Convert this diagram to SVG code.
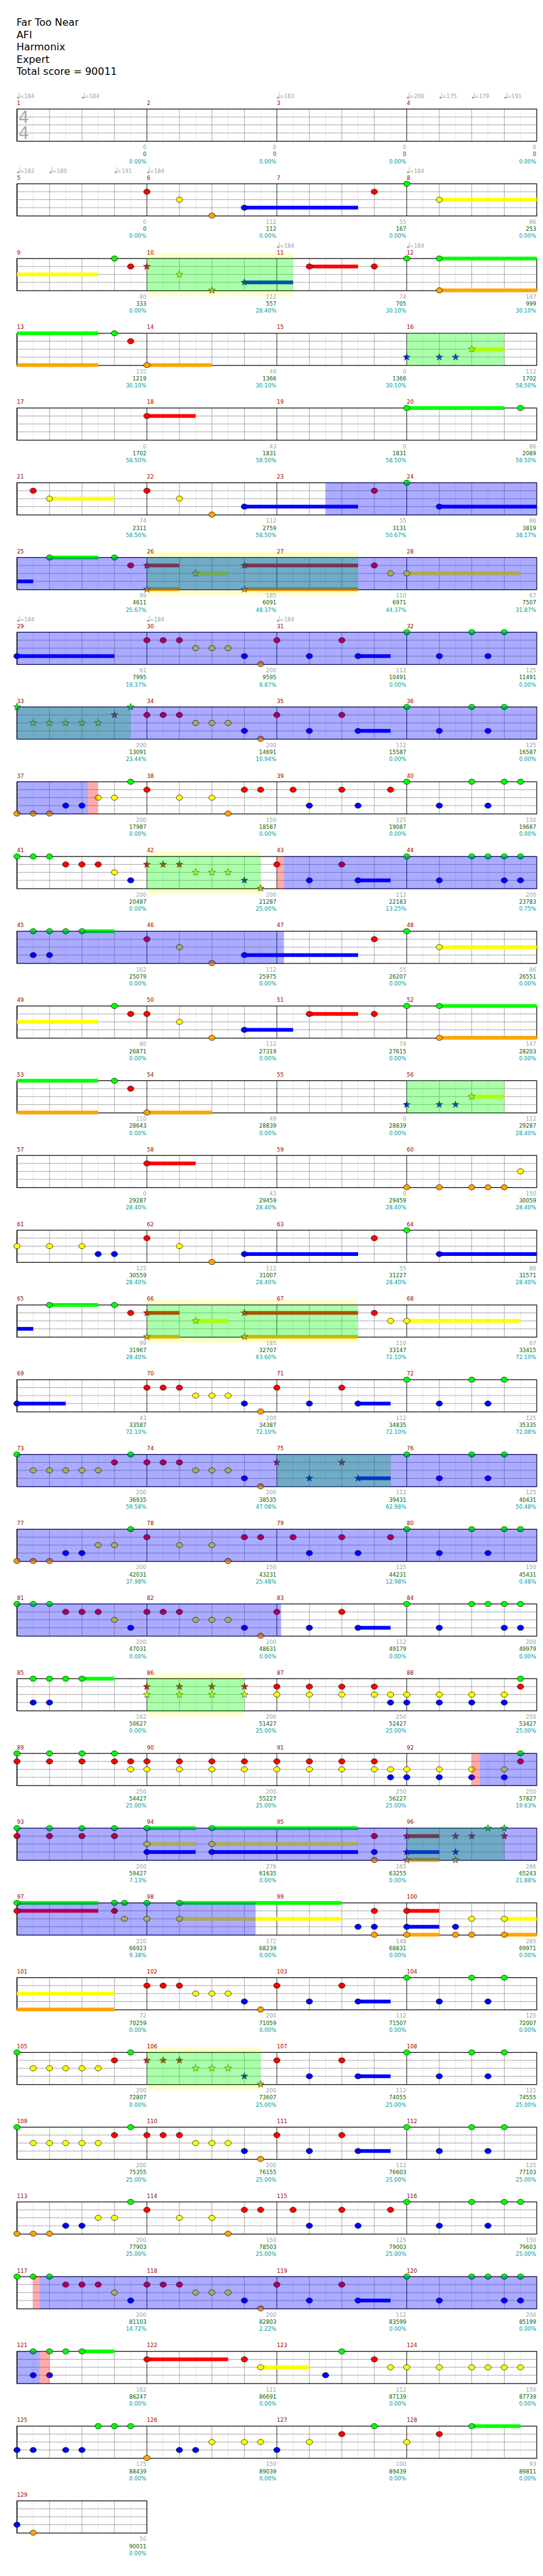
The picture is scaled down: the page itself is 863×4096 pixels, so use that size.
<svg xmlns="http://www.w3.org/2000/svg" xmlns:xlink="http://www.w3.org/1999/xlink" width="863" height="4096" viewBox="0 0 863 4096">
<style>
text{font-family:"DejaVu Sans",sans-serif}
.h{font-size:19px;fill:#000}
.mn{font-size:10.2px;fill:#990000}
.tp{font-size:10.2px;fill:#a0a0a0}
.a,.b,.c{font-size:10.2px;text-anchor:end}
.a{fill:#a0a0a0}.b{fill:#006400}.c{fill:#009c9c}
.ts{font-size:31px;fill:#a8a8a8}
.uG{fill:#00ff00}.uR{fill:#ff0000}.uY{fill:#ffff00}.uB{fill:#0000ff}.uO{fill:#ffa500}
.so{fill:#ffffcc}
.sp{fill:#00ff00;fill-opacity:.33}
.od{fill:#0000ff;fill-opacity:.33}
.pk{fill:#ff0000;fill-opacity:.33}
</style>
<defs>
<g id="meas">
<rect width="245" height="60.7" fill="#fff"/>
<path d="M30.6 0V60.7M91.9 0V60.7M153.1 0V60.7M214.4 0V60.7" stroke="#e2e2e2" stroke-width="1"/>
<path d="M61.3 0V60.7M122.5 0V60.7M183.8 0V60.7M0 15H245M0 30H245M0 45H245" stroke="#9a9a9a" stroke-width="1"/>
<path d="M0 0V60.7" stroke="#000" stroke-width="1"/>
</g>
<g id="staff4"><use href="#meas" x="32"/><use href="#meas" x="277"/><use href="#meas" x="522"/><use href="#meas" x="767"/><rect x="32" width="980" height="60.7" fill="none" stroke="#000" stroke-width="1.4"/></g>
<g id="staff1"><use href="#meas" x="32"/><rect x="32" width="245" height="60.7" fill="none" stroke="#000" stroke-width="1.4"/></g>
<ellipse id="nt" rx="6" ry="5" stroke="#000" stroke-width="0.8"/>
<polygon id="st" points="0,-7 1.65,-2.27 6.66,-2.16 2.66,0.87 4.11,5.66 0,2.8 -4.11,5.66 -2.66,0.87 -6.66,-2.16 -1.65,-2.27" stroke="#000" stroke-width="0.6"/>
<use id="G" href="#nt" fill="#00ff00"/>
<use id="R" href="#nt" y="15" fill="#ff0000"/>
<use id="Y" href="#nt" y="30" fill="#ffff00"/>
<use id="B" href="#nt" y="45" fill="#0000ff"/>
<use id="O" href="#nt" y="60" fill="#ffa500"/>
<use id="sG" href="#st" fill="#00ff00"/>
<use id="sR" href="#st" y="15" fill="#ff0000"/>
<use id="sY" href="#st" y="30" fill="#ffff00"/>
<use id="sB" href="#st" y="45" fill="#0000ff"/>
<use id="sO" href="#st" y="60" fill="#ffa500"/>
<g id="tq"><ellipse cx="2.4" cy="-1.6" rx="2.4" ry="1.8" fill="#a0a0a0"/><path d="M4.6 -1.6V-11.5" stroke="#a0a0a0" stroke-width="0.9"/></g>
<g id="r1"><use href="#R" x="277"/><use href="#R" x="307.6"/><use href="#R" x="338.3"/><use href="#Y" x="368.9"/><use href="#Y" x="399.5"/><use href="#Y" x="430.1"/><use href="#B" x="460.8"/><use href="#O" x="491.4"/></g>
<g id="r2"><rect class="uB" x="675.1" y="41.5" width="61.3" height="7"/><use href="#R" x="522"/><use href="#B" x="583.3"/><use href="#R" x="644.5"/><use href="#B" x="675.1"/></g>
<g id="r3"><use href="#G" x="767"/><use href="#B" x="828.3"/><use href="#G" x="889.5"/><use href="#B" x="920.1"/><use href="#G" x="950.8"/></g>
<g id="r3b"><use href="#G" x="767"/><use href="#B" x="828.3"/><use href="#G" x="889.5"/><use href="#G" x="920.1"/><use href="#G" x="950.8"/><use href="#G" x="981.4"/><use href="#B" x="950.8"/><use href="#B" x="981.4"/></g>
<g id="v1"><use href="#G" x="32"/><use href="#Y" x="62.6"/><use href="#Y" x="93.3"/><use href="#Y" x="123.9"/><use href="#Y" x="154.5"/><use href="#Y" x="185.1"/><use href="#R" x="215.8"/><use href="#G" x="246.4"/></g>
<g id="v2"><use href="#O" x="32"/><use href="#O" x="62.6"/><use href="#O" x="93.3"/><use href="#B" x="123.9"/><use href="#B" x="154.5"/><use href="#Y" x="185.1"/><use href="#Y" x="215.8"/><use href="#G" x="246.4"/></g>
<g id="v3"><use href="#G" x="32"/><use href="#G" x="62.6"/><use href="#G" x="93.3"/><use href="#R" x="123.9"/><use href="#R" x="154.5"/><use href="#R" x="185.1"/><use href="#Y" x="215.8"/><use href="#B" x="246.4"/></g>
<g id="rB"><use href="#R" x="277"/><use href="#Y" x="338.3"/><use href="#Y" x="399.5"/><use href="#O" x="430.1"/><use href="#R" x="460.8"/><use href="#R" x="491.4"/><use href="#R" x="552.6"/><use href="#B" x="583.3"/><use href="#R" x="644.5"/><use href="#B" x="675.1"/><use href="#R" x="736.4"/><use href="#G" x="767"/><use href="#B" x="828.3"/><use href="#G" x="889.5"/><use href="#B" x="920.1"/><use href="#G" x="950.8"/><use href="#G" x="981.4"/></g>
</defs>
<rect width="863" height="4096" fill="#fff"/>
<g transform="scale(0.8429)">
<g id="header">
<text class="h" x="31" y="48.7">Far Too Near</text>
<text class="h" x="31" y="72">AFI</text>
<text class="h" x="31" y="95.3">Harmonix</text>
<text class="h" x="31" y="118.3">Expert</text>
<text class="h" x="31" y="141.3">Total score = 90011</text>
</g>

<g id="row-1" transform="translate(0,205.7)">
<use href="#staff4"/>
<text class="ts" x="35" y="26.6">4</text><text class="ts" x="35" y="56">4</text>
<use href="#tq" x="32" y="-20"/><text class="tp" x="37" y="-20.3">=184</text>
<use href="#tq" x="154.5" y="-20"/><text class="tp" x="159.5" y="-20.3">=184</text>
<use href="#tq" x="522" y="-20"/><text class="tp" x="527" y="-20.3">=183</text>
<use href="#tq" x="767" y="-20"/><text class="tp" x="772" y="-20.3">=200</text>
<use href="#tq" x="828.3" y="-20"/><text class="tp" x="833.3" y="-20.3">=175</text>
<use href="#tq" x="889.5" y="-20"/><text class="tp" x="894.5" y="-20.3">=179</text>
<use href="#tq" x="950.8" y="-20"/><text class="tp" x="955.8" y="-20.3">=191</text>
<text class="mn" x="32" y="-7.7">1</text><text class="mn" x="277" y="-7.7">2</text><text class="mn" x="522" y="-7.7">3</text><text class="mn" x="767" y="-7.7">4</text>
<text class="a" x="276" y="75.7">0</text><text class="b" x="276" y="89">0</text><text class="c" x="276" y="102.3">0.00%</text>
<text class="a" x="521" y="75.7">0</text><text class="b" x="521" y="89">0</text><text class="c" x="521" y="102.3">0.00%</text>
<text class="a" x="766" y="75.7">0</text><text class="b" x="766" y="89">0</text><text class="c" x="766" y="102.3">0.00%</text>
<text class="a" x="1011" y="75.7">0</text><text class="b" x="1011" y="89">0</text><text class="c" x="1011" y="102.3">0.00%</text>
</g>

<g id="row-2" transform="translate(0,346.7)">
<use href="#staff4"/>
<rect class="uB" x="460.8" y="41.5" width="214.3" height="7"/><rect class="uY" x="828.3" y="26.5" width="183.7" height="7"/>
<use href="#R" x="277"/><use href="#Y" x="338.3"/><use href="#O" x="399.5"/><use href="#B" x="460.8"/><use href="#R" x="705.8"/><use href="#G" x="767"/><use href="#Y" x="828.3"/>
<use href="#tq" x="32" y="-20"/><text class="tp" x="37" y="-20.3">=182</text>
<use href="#tq" x="93.3" y="-20"/><text class="tp" x="98.3" y="-20.3">=180</text>
<use href="#tq" x="215.8" y="-20"/><text class="tp" x="220.8" y="-20.3">=191</text>
<use href="#tq" x="277" y="-20"/><text class="tp" x="282" y="-20.3">=184</text>
<use href="#tq" x="767" y="-20"/><text class="tp" x="772" y="-20.3">=184</text>
<text class="mn" x="32" y="-7.7">5</text><text class="mn" x="277" y="-7.7">6</text><text class="mn" x="522" y="-7.7">7</text><text class="mn" x="767" y="-7.7">8</text>
<text class="a" x="276" y="75.7">0</text><text class="b" x="276" y="89">0</text><text class="c" x="276" y="102.3">0.00%</text>
<text class="a" x="521" y="75.7">112</text><text class="b" x="521" y="89">112</text><text class="c" x="521" y="102.3">0.00%</text>
<text class="a" x="766" y="75.7">55</text><text class="b" x="766" y="89">167</text><text class="c" x="766" y="102.3">0.00%</text>
<text class="a" x="1011" y="75.7">86</text><text class="b" x="1011" y="89">253</text><text class="c" x="1011" y="102.3">0.00%</text>
</g>

<g id="row-3" transform="translate(0,487.7)">
<rect class="so" x="277" y="-10.4" width="275.6" height="81.7"/>
<use href="#staff4"/>
<rect class="uY" x="32" y="26.5" width="153.1" height="7"/><rect class="uB" x="460.8" y="41.5" width="91.8" height="7"/><rect class="uR" x="583.3" y="11.5" width="91.8" height="7"/><rect class="uG" x="828.3" y="-3.5" width="183.7" height="7"/><rect class="uO" x="828.3" y="56.5" width="183.7" height="7"/>
<use href="#G" x="215.8"/><use href="#R" x="246.4"/><use href="#sR" x="277"/><use href="#sY" x="338.3"/><use href="#sO" x="399.5"/><use href="#sB" x="460.8"/><use href="#R" x="583.3"/><use href="#R" x="705.8"/><use href="#G" x="767"/><use href="#G" x="828.3"/><use href="#O" x="828.3"/>
<rect class="sp" x="277" y="0" width="275.6" height="60.7"/>
<use href="#tq" x="522" y="-20"/><text class="tp" x="527" y="-20.3">=184</text>
<use href="#tq" x="767" y="-20"/><text class="tp" x="772" y="-20.3">=184</text>
<text class="mn" x="32" y="-7.7">9</text><text class="mn" x="277" y="-7.7">10</text><text class="mn" x="522" y="-7.7">11</text><text class="mn" x="767" y="-7.7">12</text>
<text class="a" x="276" y="75.7">80</text><text class="b" x="276" y="89">333</text><text class="c" x="276" y="102.3">0.00%</text>
<text class="a" x="521" y="75.7">112</text><text class="b" x="521" y="89">557</text><text class="c" x="521" y="102.3">28.40%</text>
<text class="a" x="766" y="75.7">74</text><text class="b" x="766" y="89">705</text><text class="c" x="766" y="102.3">30.10%</text>
<text class="a" x="1011" y="75.7">147</text><text class="b" x="1011" y="89">999</text><text class="c" x="1011" y="102.3">30.10%</text>
</g>

<g id="row-4" transform="translate(0,628.7)">
<use href="#staff4"/>
<rect class="uG" x="32" y="-3.5" width="153.1" height="7"/><rect class="uO" x="32" y="56.5" width="153.1" height="7"/><rect class="uO" x="277" y="56.5" width="122.5" height="7"/><rect class="uY" x="889.5" y="26.5" width="61.3" height="7"/>
<use href="#G" x="215.8"/><use href="#R" x="246.4"/><use href="#O" x="277"/><use href="#sB" x="767"/><use href="#sB" x="828.3"/><use href="#sB" x="858.9"/><use href="#sY" x="889.5"/>
<rect class="sp" x="767" y="0" width="183.8" height="60.7"/>
<text class="mn" x="32" y="-7.7">13</text><text class="mn" x="277" y="-7.7">14</text><text class="mn" x="522" y="-7.7">15</text><text class="mn" x="767" y="-7.7">16</text>
<text class="a" x="276" y="75.7">110</text><text class="b" x="276" y="89">1219</text><text class="c" x="276" y="102.3">30.10%</text>
<text class="a" x="521" y="75.7">49</text><text class="b" x="521" y="89">1366</text><text class="c" x="521" y="102.3">30.10%</text>
<text class="a" x="766" y="75.7">0</text><text class="b" x="766" y="89">1366</text><text class="c" x="766" y="102.3">30.10%</text>
<text class="a" x="1011" y="75.7">112</text><text class="b" x="1011" y="89">1702</text><text class="c" x="1011" y="102.3">58.50%</text>
</g>

<g id="row-5" transform="translate(0,769.7)">
<use href="#staff4"/>
<rect class="uR" x="277" y="11.5" width="91.9" height="7"/><rect class="uG" x="767" y="-3.5" width="183.8" height="7"/>
<use href="#R" x="277"/><use href="#G" x="767"/><use href="#G" x="981.4"/>
<text class="mn" x="32" y="-7.7">17</text><text class="mn" x="277" y="-7.7">18</text><text class="mn" x="522" y="-7.7">19</text><text class="mn" x="767" y="-7.7">20</text>
<text class="a" x="276" y="75.7">0</text><text class="b" x="276" y="89">1702</text><text class="c" x="276" y="102.3">58.50%</text>
<text class="a" x="521" y="75.7">43</text><text class="b" x="521" y="89">1831</text><text class="c" x="521" y="102.3">58.50%</text>
<text class="a" x="766" y="75.7">0</text><text class="b" x="766" y="89">1831</text><text class="c" x="766" y="102.3">58.50%</text>
<text class="a" x="1011" y="75.7">86</text><text class="b" x="1011" y="89">2089</text><text class="c" x="1011" y="102.3">58.50%</text>
</g>

<g id="row-6" transform="translate(0,910.7)">
<use href="#staff4"/>
<rect class="uY" x="93.3" y="26.5" width="122.5" height="7"/><rect class="uB" x="460.8" y="41.5" width="214.3" height="7"/><rect class="uB" x="828.3" y="41.5" width="183.7" height="7"/>
<use href="#R" x="62.6"/><use href="#Y" x="93.3"/><use href="#R" x="277"/><use href="#Y" x="338.3"/><use href="#O" x="399.5"/><use href="#B" x="460.8"/><use href="#R" x="705.8"/><use href="#G" x="767"/><use href="#B" x="828.3"/>
<rect class="od" x="613.9" y="-0.7" width="398.1" height="62.1"/>
<text class="mn" x="32" y="-7.7">21</text><text class="mn" x="277" y="-7.7">22</text><text class="mn" x="522" y="-7.7">23</text><text class="mn" x="767" y="-7.7">24</text>
<text class="a" x="276" y="75.7">74</text><text class="b" x="276" y="89">2311</text><text class="c" x="276" y="102.3">58.50%</text>
<text class="a" x="521" y="75.7">112</text><text class="b" x="521" y="89">2759</text><text class="c" x="521" y="102.3">58.50%</text>
<text class="a" x="766" y="75.7">55</text><text class="b" x="766" y="89">3131</text><text class="c" x="766" y="102.3">50.67%</text>
<text class="a" x="1011" y="75.7">86</text><text class="b" x="1011" y="89">3819</text><text class="c" x="1011" y="102.3">38.17%</text>
</g>

<g id="row-7" transform="translate(0,1051.7)">
<rect class="so" x="277" y="-10.4" width="398.1" height="81.7"/>
<use href="#staff4"/>
<rect class="uB" x="32" y="41.5" width="30.6" height="7"/><rect class="uG" x="93.3" y="-3.5" width="91.8" height="7"/><rect class="uR" x="277" y="11.5" width="61.3" height="7"/><rect class="uO" x="277" y="56.5" width="61.3" height="7"/><rect class="uY" x="368.9" y="26.5" width="61.2" height="7"/><rect class="uR" x="460.8" y="11.5" width="214.3" height="7"/><rect class="uO" x="460.8" y="56.5" width="214.3" height="7"/><rect class="uY" x="767" y="26.5" width="214.4" height="7"/>
<use href="#G" x="93.3"/><use href="#G" x="215.8"/><use href="#R" x="246.4"/><use href="#sR" x="277"/><use href="#sO" x="277"/><use href="#sY" x="368.9"/><use href="#sR" x="460.8"/><use href="#sO" x="460.8"/><use href="#R" x="705.8"/><use href="#Y" x="736.4"/><use href="#Y" x="767"/>
<rect class="sp" x="277" y="0" width="398.1" height="60.7"/>
<rect class="od" x="32" y="-0.7" width="980" height="62.1"/>
<text class="mn" x="32" y="-7.7">25</text><text class="mn" x="277" y="-7.7">26</text><text class="mn" x="522" y="-7.7">27</text><text class="mn" x="767" y="-7.7">28</text>
<text class="a" x="276" y="75.7">99</text><text class="b" x="276" y="89">4611</text><text class="c" x="276" y="102.3">25.67%</text>
<text class="a" x="521" y="75.7">185</text><text class="b" x="521" y="89">6091</text><text class="c" x="521" y="102.3">48.37%</text>
<text class="a" x="766" y="75.7">110</text><text class="b" x="766" y="89">6971</text><text class="c" x="766" y="102.3">44.37%</text>
<text class="a" x="1011" y="75.7">67</text><text class="b" x="1011" y="89">7507</text><text class="c" x="1011" y="102.3">31.87%</text>
</g>

<g id="row-8" transform="translate(0,1192.7)">
<use href="#staff4"/>
<rect class="uB" x="32" y="41.5" width="183.8" height="7"/>
<use href="#B" x="32"/><use href="#r1"/><use href="#r2"/><use href="#r3"/>
<rect class="od" x="32" y="-0.7" width="980" height="62.1"/>
<use href="#tq" x="32" y="-20"/><text class="tp" x="37" y="-20.3">=184</text>
<use href="#tq" x="277" y="-20"/><text class="tp" x="282" y="-20.3">=184</text>
<use href="#tq" x="522" y="-20"/><text class="tp" x="527" y="-20.3">=184</text>
<text class="mn" x="32" y="-7.7">29</text><text class="mn" x="277" y="-7.7">30</text><text class="mn" x="522" y="-7.7">31</text><text class="mn" x="767" y="-7.7">32</text>
<text class="a" x="276" y="75.7">61</text><text class="b" x="276" y="89">7995</text><text class="c" x="276" y="102.3">19.37%</text>
<text class="a" x="521" y="75.7">200</text><text class="b" x="521" y="89">9595</text><text class="c" x="521" y="102.3">6.87%</text>
<text class="a" x="766" y="75.7">112</text><text class="b" x="766" y="89">10491</text><text class="c" x="766" y="102.3">0.00%</text>
<text class="a" x="1011" y="75.7">125</text><text class="b" x="1011" y="89">11491</text><text class="c" x="1011" y="102.3">0.00%</text>
</g>

<g id="row-9" transform="translate(0,1333.7)">
<use href="#staff4"/>
<use href="#sG" x="32"/><use href="#sY" x="62.6"/><use href="#sY" x="93.3"/><use href="#sY" x="123.9"/><use href="#sY" x="154.5"/><use href="#sY" x="185.1"/><use href="#sR" x="215.8"/><use href="#sG" x="246.4"/>
<use href="#r1"/><use href="#r2"/><use href="#r3"/>
<rect class="sp" x="32" y="0" width="214.4" height="60.7"/>
<rect class="od" x="32" y="-0.7" width="980" height="62.1"/>
<text class="mn" x="32" y="-7.7">33</text><text class="mn" x="277" y="-7.7">34</text><text class="mn" x="522" y="-7.7">35</text><text class="mn" x="767" y="-7.7">36</text>
<text class="a" x="276" y="75.7">200</text><text class="b" x="276" y="89">13091</text><text class="c" x="276" y="102.3">23.44%</text>
<text class="a" x="521" y="75.7">200</text><text class="b" x="521" y="89">14691</text><text class="c" x="521" y="102.3">10.94%</text>
<text class="a" x="766" y="75.7">112</text><text class="b" x="766" y="89">15587</text><text class="c" x="766" y="102.3">0.00%</text>
<text class="a" x="1011" y="75.7">125</text><text class="b" x="1011" y="89">16587</text><text class="c" x="1011" y="102.3">0.00%</text>
</g>

<g id="row-10" transform="translate(0,1474.7)">
<use href="#staff4"/>
<use href="#v2"/><use href="#rB"/>
<rect class="od" x="32" y="-0.7" width="134" height="62.1"/>
<rect class="pk" x="166" y="-0.7" width="18.7" height="62.1"/>
<text class="mn" x="32" y="-7.7">37</text><text class="mn" x="277" y="-7.7">38</text><text class="mn" x="522" y="-7.7">39</text><text class="mn" x="767" y="-7.7">40</text>
<text class="a" x="276" y="75.7">200</text><text class="b" x="276" y="89">17987</text><text class="c" x="276" y="102.3">0.00%</text>
<text class="a" x="521" y="75.7">150</text><text class="b" x="521" y="89">18587</text><text class="c" x="521" y="102.3">0.00%</text>
<text class="a" x="766" y="75.7">125</text><text class="b" x="766" y="89">19087</text><text class="c" x="766" y="102.3">0.00%</text>
<text class="a" x="1011" y="75.7">150</text><text class="b" x="1011" y="89">19687</text><text class="c" x="1011" y="102.3">0.00%</text>
</g>

<g id="row-11" transform="translate(0,1615.7)">
<rect class="so" x="277" y="-10.4" width="214.4" height="81.7"/>
<use href="#staff4"/>
<use href="#v3"/>
<use href="#sR" x="277"/><use href="#sR" x="307.6"/><use href="#sR" x="338.3"/><use href="#sY" x="368.9"/><use href="#sY" x="399.5"/><use href="#sY" x="430.1"/><use href="#sB" x="460.8"/><use href="#sO" x="491.4"/>
<use href="#r2"/><use href="#r3b"/>
<rect class="sp" x="277" y="0" width="214.4" height="60.7"/>
<rect class="pk" x="522" y="-0.7" width="13.4" height="62.1"/>
<rect class="od" x="535.4" y="-0.7" width="476.6" height="62.1"/>
<text class="mn" x="32" y="-7.7">41</text><text class="mn" x="277" y="-7.7">42</text><text class="mn" x="522" y="-7.7">43</text><text class="mn" x="767" y="-7.7">44</text>
<text class="a" x="276" y="75.7">200</text><text class="b" x="276" y="89">20487</text><text class="c" x="276" y="102.3">0.00%</text>
<text class="a" x="521" y="75.7">200</text><text class="b" x="521" y="89">21287</text><text class="c" x="521" y="102.3">25.00%</text>
<text class="a" x="766" y="75.7">112</text><text class="b" x="766" y="89">22183</text><text class="c" x="766" y="102.3">13.25%</text>
<text class="a" x="1011" y="75.7">200</text><text class="b" x="1011" y="89">23783</text><text class="c" x="1011" y="102.3">0.75%</text>
</g>

<g id="row-12" transform="translate(0,1756.7)">
<use href="#staff4"/>
<rect class="uG" x="154.5" y="-3.5" width="61.3" height="7"/><rect class="uB" x="460.8" y="41.5" width="214.3" height="7"/><rect class="uY" x="828.3" y="26.5" width="183.7" height="7"/>
<use href="#G" x="62.6"/><use href="#G" x="93.3"/><use href="#G" x="123.9"/><use href="#G" x="154.5"/><use href="#B" x="62.6"/><use href="#B" x="93.3"/><use href="#R" x="277"/><use href="#Y" x="338.3"/><use href="#O" x="399.5"/><use href="#B" x="460.8"/><use href="#R" x="705.8"/><use href="#G" x="767"/><use href="#Y" x="828.3"/>
<rect class="od" x="32" y="-0.7" width="503.4" height="62.1"/>
<text class="mn" x="32" y="-7.7">45</text><text class="mn" x="277" y="-7.7">46</text><text class="mn" x="522" y="-7.7">47</text><text class="mn" x="767" y="-7.7">48</text>
<text class="a" x="276" y="75.7">162</text><text class="b" x="276" y="89">25079</text><text class="c" x="276" y="102.3">0.00%</text>
<text class="a" x="521" y="75.7">112</text><text class="b" x="521" y="89">25975</text><text class="c" x="521" y="102.3">0.00%</text>
<text class="a" x="766" y="75.7">55</text><text class="b" x="766" y="89">26207</text><text class="c" x="766" y="102.3">0.00%</text>
<text class="a" x="1011" y="75.7">86</text><text class="b" x="1011" y="89">26551</text><text class="c" x="1011" y="102.3">0.00%</text>
</g>

<g id="row-13" transform="translate(0,1897.7)">
<use href="#staff4"/>
<rect class="uY" x="32" y="26.5" width="153.1" height="7"/><rect class="uB" x="460.8" y="41.5" width="91.8" height="7"/><rect class="uR" x="583.3" y="11.5" width="91.8" height="7"/><rect class="uG" x="828.3" y="-3.5" width="183.7" height="7"/><rect class="uO" x="828.3" y="56.5" width="183.7" height="7"/>
<use href="#G" x="215.8"/><use href="#R" x="246.4"/><use href="#R" x="277"/><use href="#Y" x="338.3"/><use href="#O" x="399.5"/><use href="#B" x="460.8"/><use href="#R" x="583.3"/><use href="#R" x="705.8"/><use href="#G" x="767"/><use href="#G" x="828.3"/><use href="#O" x="828.3"/>
<text class="mn" x="32" y="-7.7">49</text><text class="mn" x="277" y="-7.7">50</text><text class="mn" x="522" y="-7.7">51</text><text class="mn" x="767" y="-7.7">52</text>
<text class="a" x="276" y="75.7">80</text><text class="b" x="276" y="89">26871</text><text class="c" x="276" y="102.3">0.00%</text>
<text class="a" x="521" y="75.7">112</text><text class="b" x="521" y="89">27319</text><text class="c" x="521" y="102.3">0.00%</text>
<text class="a" x="766" y="75.7">74</text><text class="b" x="766" y="89">27615</text><text class="c" x="766" y="102.3">0.00%</text>
<text class="a" x="1011" y="75.7">147</text><text class="b" x="1011" y="89">28203</text><text class="c" x="1011" y="102.3">0.00%</text>
</g>

<g id="row-14" transform="translate(0,2038.7)">
<use href="#staff4"/>
<rect class="uG" x="32" y="-3.5" width="153.1" height="7"/><rect class="uO" x="32" y="56.5" width="153.1" height="7"/><rect class="uO" x="277" y="56.5" width="122.5" height="7"/><rect class="uY" x="889.5" y="26.5" width="61.3" height="7"/>
<use href="#G" x="215.8"/><use href="#R" x="246.4"/><use href="#O" x="277"/><use href="#sB" x="767"/><use href="#sB" x="828.3"/><use href="#sB" x="858.9"/><use href="#sY" x="889.5"/>
<rect class="sp" x="767" y="0" width="183.8" height="60.7"/>
<text class="mn" x="32" y="-7.7">53</text><text class="mn" x="277" y="-7.7">54</text><text class="mn" x="522" y="-7.7">55</text><text class="mn" x="767" y="-7.7">56</text>
<text class="a" x="276" y="75.7">110</text><text class="b" x="276" y="89">28643</text><text class="c" x="276" y="102.3">0.00%</text>
<text class="a" x="521" y="75.7">49</text><text class="b" x="521" y="89">28839</text><text class="c" x="521" y="102.3">0.00%</text>
<text class="a" x="766" y="75.7">0</text><text class="b" x="766" y="89">28839</text><text class="c" x="766" y="102.3">0.00%</text>
<text class="a" x="1011" y="75.7">112</text><text class="b" x="1011" y="89">29287</text><text class="c" x="1011" y="102.3">28.40%</text>
</g>

<g id="row-15" transform="translate(0,2179.7)">
<use href="#staff4"/>
<rect class="uR" x="277" y="11.5" width="91.9" height="7"/>
<use href="#R" x="277"/><use href="#O" x="767"/><use href="#O" x="828.3"/><use href="#O" x="889.5"/><use href="#O" x="920.1"/><use href="#O" x="950.8"/><use href="#Y" x="981.4"/>
<text class="mn" x="32" y="-7.7">57</text><text class="mn" x="277" y="-7.7">58</text><text class="mn" x="522" y="-7.7">59</text><text class="mn" x="767" y="-7.7">60</text>
<text class="a" x="276" y="75.7">0</text><text class="b" x="276" y="89">29287</text><text class="c" x="276" y="102.3">28.40%</text>
<text class="a" x="521" y="75.7">43</text><text class="b" x="521" y="89">29459</text><text class="c" x="521" y="102.3">28.40%</text>
<text class="a" x="766" y="75.7">0</text><text class="b" x="766" y="89">29459</text><text class="c" x="766" y="102.3">28.40%</text>
<text class="a" x="1011" y="75.7">150</text><text class="b" x="1011" y="89">30059</text><text class="c" x="1011" y="102.3">28.40%</text>
</g>

<g id="row-16" transform="translate(0,2320.7)">
<use href="#staff4"/>
<rect class="uB" x="460.8" y="41.5" width="214.3" height="7"/><rect class="uB" x="828.3" y="41.5" width="183.7" height="7"/>
<use href="#Y" x="32"/><use href="#Y" x="93.3"/><use href="#Y" x="154.5"/><use href="#B" x="185.1"/><use href="#B" x="215.8"/><use href="#R" x="277"/><use href="#Y" x="338.3"/><use href="#O" x="399.5"/><use href="#B" x="460.8"/><use href="#R" x="705.8"/><use href="#G" x="767"/><use href="#B" x="828.3"/>
<text class="mn" x="32" y="-7.7">61</text><text class="mn" x="277" y="-7.7">62</text><text class="mn" x="522" y="-7.7">63</text><text class="mn" x="767" y="-7.7">64</text>
<text class="a" x="276" y="75.7">125</text><text class="b" x="276" y="89">30559</text><text class="c" x="276" y="102.3">28.40%</text>
<text class="a" x="521" y="75.7">112</text><text class="b" x="521" y="89">31007</text><text class="c" x="521" y="102.3">28.40%</text>
<text class="a" x="766" y="75.7">55</text><text class="b" x="766" y="89">31227</text><text class="c" x="766" y="102.3">28.40%</text>
<text class="a" x="1011" y="75.7">86</text><text class="b" x="1011" y="89">31571</text><text class="c" x="1011" y="102.3">28.40%</text>
</g>

<g id="row-17" transform="translate(0,2461.7)">
<rect class="so" x="277" y="-10.4" width="398.1" height="81.7"/>
<use href="#staff4"/>
<rect class="uB" x="32" y="41.5" width="30.6" height="7"/><rect class="uG" x="93.3" y="-3.5" width="91.8" height="7"/><rect class="uR" x="277" y="11.5" width="61.3" height="7"/><rect class="uO" x="277" y="56.5" width="61.3" height="7"/><rect class="uY" x="368.9" y="26.5" width="61.2" height="7"/><rect class="uR" x="460.8" y="11.5" width="214.3" height="7"/><rect class="uO" x="460.8" y="56.5" width="214.3" height="7"/><rect class="uY" x="767" y="26.5" width="214.4" height="7"/>
<use href="#G" x="93.3"/><use href="#G" x="215.8"/><use href="#R" x="246.4"/><use href="#sR" x="277"/><use href="#sO" x="277"/><use href="#sY" x="368.9"/><use href="#sR" x="460.8"/><use href="#sO" x="460.8"/><use href="#R" x="705.8"/><use href="#Y" x="736.4"/><use href="#Y" x="767"/>
<rect class="sp" x="277" y="0" width="398.1" height="60.7"/>
<text class="mn" x="32" y="-7.7">65</text><text class="mn" x="277" y="-7.7">66</text><text class="mn" x="522" y="-7.7">67</text><text class="mn" x="767" y="-7.7">68</text>
<text class="a" x="276" y="75.7">99</text><text class="b" x="276" y="89">31967</text><text class="c" x="276" y="102.3">28.40%</text>
<text class="a" x="521" y="75.7">185</text><text class="b" x="521" y="89">32707</text><text class="c" x="521" y="102.3">63.60%</text>
<text class="a" x="766" y="75.7">110</text><text class="b" x="766" y="89">33147</text><text class="c" x="766" y="102.3">72.10%</text>
<text class="a" x="1011" y="75.7">67</text><text class="b" x="1011" y="89">33415</text><text class="c" x="1011" y="102.3">72.10%</text>
</g>

<g id="row-18" transform="translate(0,2602.7)">
<use href="#staff4"/>
<rect class="uB" x="32" y="41.5" width="91.9" height="7"/>
<use href="#B" x="32"/><use href="#r1"/><use href="#r2"/><use href="#r3"/>
<text class="mn" x="32" y="-7.7">69</text><text class="mn" x="277" y="-7.7">70</text><text class="mn" x="522" y="-7.7">71</text><text class="mn" x="767" y="-7.7">72</text>
<text class="a" x="276" y="75.7">43</text><text class="b" x="276" y="89">33587</text><text class="c" x="276" y="102.3">72.10%</text>
<text class="a" x="521" y="75.7">200</text><text class="b" x="521" y="89">34387</text><text class="c" x="521" y="102.3">72.10%</text>
<text class="a" x="766" y="75.7">112</text><text class="b" x="766" y="89">34835</text><text class="c" x="766" y="102.3">72.10%</text>
<text class="a" x="1011" y="75.7">125</text><text class="b" x="1011" y="89">35335</text><text class="c" x="1011" y="102.3">72.08%</text>
</g>

<g id="row-19" transform="translate(0,2743.7)">
<use href="#staff4"/>
<rect class="uB" x="675.1" y="41.5" width="61.3" height="7"/>
<use href="#v1"/><use href="#r1"/>
<use href="#sR" x="522"/><use href="#sB" x="583.3"/><use href="#sR" x="644.5"/><use href="#sB" x="675.1"/>
<use href="#r3"/>
<rect class="sp" x="522" y="0" width="214.4" height="60.7"/>
<rect class="od" x="32" y="-0.7" width="980" height="62.1"/>
<text class="mn" x="32" y="-7.7">73</text><text class="mn" x="277" y="-7.7">74</text><text class="mn" x="522" y="-7.7">75</text><text class="mn" x="767" y="-7.7">76</text>
<text class="a" x="276" y="75.7">200</text><text class="b" x="276" y="89">36935</text><text class="c" x="276" y="102.3">59.58%</text>
<text class="a" x="521" y="75.7">200</text><text class="b" x="521" y="89">38535</text><text class="c" x="521" y="102.3">47.08%</text>
<text class="a" x="766" y="75.7">112</text><text class="b" x="766" y="89">39431</text><text class="c" x="766" y="102.3">62.98%</text>
<text class="a" x="1011" y="75.7">125</text><text class="b" x="1011" y="89">40431</text><text class="c" x="1011" y="102.3">50.48%</text>
</g>

<g id="row-20" transform="translate(0,2884.7)">
<use href="#staff4"/>
<use href="#v2"/><use href="#rB"/>
<rect class="od" x="32" y="-0.7" width="980" height="62.1"/>
<text class="mn" x="32" y="-7.7">77</text><text class="mn" x="277" y="-7.7">78</text><text class="mn" x="522" y="-7.7">79</text><text class="mn" x="767" y="-7.7">80</text>
<text class="a" x="276" y="75.7">200</text><text class="b" x="276" y="89">42031</text><text class="c" x="276" y="102.3">37.98%</text>
<text class="a" x="521" y="75.7">150</text><text class="b" x="521" y="89">43231</text><text class="c" x="521" y="102.3">25.48%</text>
<text class="a" x="766" y="75.7">125</text><text class="b" x="766" y="89">44231</text><text class="c" x="766" y="102.3">12.98%</text>
<text class="a" x="1011" y="75.7">150</text><text class="b" x="1011" y="89">45431</text><text class="c" x="1011" y="102.3">0.48%</text>
</g>

<g id="row-21" transform="translate(0,3025.7)">
<use href="#staff4"/>
<use href="#v3"/><use href="#r1"/><use href="#r2"/><use href="#r3b"/>
<rect class="od" x="32" y="-0.7" width="498" height="62.1"/>
<text class="mn" x="32" y="-7.7">81</text><text class="mn" x="277" y="-7.7">82</text><text class="mn" x="522" y="-7.7">83</text><text class="mn" x="767" y="-7.7">84</text>
<text class="a" x="276" y="75.7">200</text><text class="b" x="276" y="89">47031</text><text class="c" x="276" y="102.3">0.00%</text>
<text class="a" x="521" y="75.7">200</text><text class="b" x="521" y="89">48631</text><text class="c" x="521" y="102.3">0.00%</text>
<text class="a" x="766" y="75.7">112</text><text class="b" x="766" y="89">49179</text><text class="c" x="766" y="102.3">0.00%</text>
<text class="a" x="1011" y="75.7">200</text><text class="b" x="1011" y="89">49979</text><text class="c" x="1011" y="102.3">0.00%</text>
</g>

<g id="row-22" transform="translate(0,3166.7)">
<rect class="so" x="277" y="-10.4" width="183.8" height="81.7"/>
<use href="#staff4"/>
<rect class="uG" x="154.5" y="-3.5" width="61.3" height="7"/>
<use href="#G" x="62.6"/><use href="#G" x="93.3"/><use href="#G" x="123.9"/><use href="#G" x="154.5"/><use href="#B" x="62.6"/><use href="#B" x="93.3"/>
<use href="#sR" x="277"/><use href="#sR" x="338.3"/><use href="#sR" x="399.5"/><use href="#sR" x="460.8"/><use href="#sY" x="277"/><use href="#sY" x="338.3"/><use href="#sY" x="399.5"/><use href="#sY" x="460.8"/>
<use href="#R" x="522"/><use href="#R" x="583.3"/><use href="#R" x="644.5"/><use href="#R" x="705.8"/><use href="#Y" x="522"/><use href="#Y" x="583.3"/><use href="#Y" x="644.5"/><use href="#Y" x="705.8"/>
<use href="#Y" x="736.4"/><use href="#Y" x="767"/><use href="#Y" x="828.3"/><use href="#Y" x="889.5"/><use href="#Y" x="950.8"/><use href="#B" x="736.4"/><use href="#B" x="767"/><use href="#B" x="828.3"/><use href="#B" x="889.5"/><use href="#B" x="950.8"/><use href="#G" x="981.4"/><use href="#R" x="981.4"/>
<rect class="sp" x="277" y="0" width="183.8" height="60.7"/>
<text class="mn" x="32" y="-7.7">85</text><text class="mn" x="277" y="-7.7">86</text><text class="mn" x="522" y="-7.7">87</text><text class="mn" x="767" y="-7.7">88</text>
<text class="a" x="276" y="75.7">162</text><text class="b" x="276" y="89">50627</text><text class="c" x="276" y="102.3">0.00%</text>
<text class="a" x="521" y="75.7">200</text><text class="b" x="521" y="89">51427</text><text class="c" x="521" y="102.3">25.00%</text>
<text class="a" x="766" y="75.7">250</text><text class="b" x="766" y="89">52427</text><text class="c" x="766" y="102.3">25.00%</text>
<text class="a" x="1011" y="75.7">250</text><text class="b" x="1011" y="89">53427</text><text class="c" x="1011" y="102.3">25.00%</text>
</g>

<g id="row-23" transform="translate(0,3307.7)">
<use href="#staff4"/>
<use href="#G" x="32"/><use href="#G" x="93.3"/><use href="#G" x="154.5"/><use href="#G" x="215.8"/>
<use href="#R" x="32"/><use href="#R" x="93.3"/><use href="#R" x="154.5"/><use href="#R" x="215.8"/><use href="#R" x="246.4"/><use href="#R" x="277"/><use href="#R" x="338.3"/><use href="#R" x="399.5"/><use href="#R" x="460.8"/><use href="#R" x="522"/><use href="#R" x="583.3"/><use href="#R" x="644.5"/><use href="#R" x="705.8"/>
<use href="#Y" x="246.4"/><use href="#Y" x="277"/><use href="#Y" x="338.3"/><use href="#Y" x="399.5"/><use href="#Y" x="460.8"/><use href="#Y" x="522"/><use href="#Y" x="583.3"/><use href="#Y" x="644.5"/><use href="#Y" x="705.8"/><use href="#Y" x="736.4"/><use href="#Y" x="767"/><use href="#Y" x="828.3"/><use href="#Y" x="889.5"/><use href="#Y" x="950.8"/>
<use href="#B" x="736.4"/><use href="#B" x="767"/><use href="#B" x="828.3"/><use href="#B" x="889.5"/><use href="#B" x="950.8"/><use href="#G" x="981.4"/><use href="#R" x="981.4"/>
<rect class="pk" x="890" y="-0.7" width="14.7" height="62.1"/>
<rect class="od" x="904.7" y="-0.7" width="107.3" height="62.1"/>
<text class="mn" x="32" y="-7.7">89</text><text class="mn" x="277" y="-7.7">90</text><text class="mn" x="522" y="-7.7">91</text><text class="mn" x="767" y="-7.7">92</text>
<text class="a" x="276" y="75.7">250</text><text class="b" x="276" y="89">54427</text><text class="c" x="276" y="102.3">25.00%</text>
<text class="a" x="521" y="75.7">200</text><text class="b" x="521" y="89">55227</text><text class="c" x="521" y="102.3">25.00%</text>
<text class="a" x="766" y="75.7">250</text><text class="b" x="766" y="89">56227</text><text class="c" x="766" y="102.3">25.00%</text>
<text class="a" x="1011" y="75.7">250</text><text class="b" x="1011" y="89">57827</text><text class="c" x="1011" y="102.3">19.63%</text>
</g>

<g id="row-24" transform="translate(0,3448.7)">
<use href="#staff4"/>
<rect class="uG" x="277" y="-3.5" width="91.9" height="7"/><rect class="uY" x="277" y="26.5" width="91.9" height="7"/><rect class="uB" x="277" y="41.5" width="91.9" height="7"/>
<rect class="uG" x="399.5" y="-3.5" width="275.6" height="7"/><rect class="uY" x="399.5" y="26.5" width="275.6" height="7"/><rect class="uB" x="399.5" y="41.5" width="275.6" height="7"/>
<rect class="uR" x="767" y="11.5" width="61.3" height="7"/><rect class="uB" x="767" y="41.5" width="61.3" height="7"/><rect class="uO" x="767" y="56.5" width="61.3" height="7"/>
<use href="#G" x="32"/><use href="#G" x="93.3"/><use href="#G" x="154.5"/><use href="#G" x="215.8"/><use href="#R" x="32"/><use href="#R" x="93.3"/><use href="#R" x="154.5"/><use href="#R" x="215.8"/>
<use href="#G" x="277"/><use href="#Y" x="277"/><use href="#B" x="277"/><use href="#G" x="399.5"/><use href="#Y" x="399.5"/><use href="#B" x="399.5"/>
<use href="#R" x="705.8"/><use href="#B" x="705.8"/><use href="#O" x="705.8"/>
<use href="#sR" x="767"/><use href="#sB" x="767"/><use href="#sO" x="767"/><use href="#sR" x="858.9"/><use href="#sB" x="858.9"/><use href="#sO" x="858.9"/><use href="#sR" x="889.5"/><use href="#sG" x="920.1"/><use href="#sG" x="950.8"/><use href="#sR" x="950.8"/>
<rect class="sp" x="767" y="0" width="183.8" height="60.7"/>
<rect class="od" x="32" y="-0.7" width="980" height="62.1"/>
<text class="mn" x="32" y="-7.7">93</text><text class="mn" x="277" y="-7.7">94</text><text class="mn" x="522" y="-7.7">95</text><text class="mn" x="767" y="-7.7">96</text>
<text class="a" x="276" y="75.7">200</text><text class="b" x="276" y="89">59427</text><text class="c" x="276" y="102.3">7.13%</text>
<text class="a" x="521" y="75.7">276</text><text class="b" x="521" y="89">61635</text><text class="c" x="521" y="102.3">0.00%</text>
<text class="a" x="766" y="75.7">165</text><text class="b" x="766" y="89">63255</text><text class="c" x="766" y="102.3">0.00%</text>
<text class="a" x="1011" y="75.7">286</text><text class="b" x="1011" y="89">65243</text><text class="c" x="1011" y="102.3">21.88%</text>
</g>

<g id="row-25" transform="translate(0,3589.7)">
<use href="#staff4"/>
<rect class="uG" x="32" y="-3.5" width="153.1" height="7"/><rect class="uR" x="32" y="11.5" width="153.1" height="7"/>
<rect class="uG" x="338.3" y="-3.5" width="306.2" height="7"/><rect class="uY" x="338.3" y="26.5" width="306.2" height="7"/>
<rect class="uR" x="767" y="11.5" width="61.3" height="7"/><rect class="uB" x="767" y="41.5" width="61.3" height="7"/><rect class="uO" x="767" y="56.5" width="61.3" height="7"/>
<rect class="uY" x="950.8" y="26.5" width="61.2" height="7"/><rect class="uO" x="950.8" y="56.5" width="61.2" height="7"/>
<use href="#G" x="32"/><use href="#R" x="32"/><use href="#G" x="215.8"/><use href="#R" x="215.8"/><use href="#G" x="234.7"/><use href="#Y" x="234.7"/><use href="#G" x="277"/><use href="#Y" x="277"/><use href="#G" x="338.3"/><use href="#Y" x="338.3"/>
<use href="#B" x="675.1"/><use href="#R" x="705.8"/><use href="#B" x="705.8"/><use href="#O" x="705.8"/><use href="#R" x="767"/><use href="#B" x="767"/><use href="#O" x="767"/><use href="#B" x="858.9"/><use href="#O" x="858.9"/><use href="#Y" x="889.5"/><use href="#O" x="889.5"/><use href="#Y" x="950.8"/><use href="#O" x="950.8"/>
<rect class="od" x="32" y="-0.7" width="450" height="62.1"/>
<text class="mn" x="32" y="-7.7">97</text><text class="mn" x="277" y="-7.7">98</text><text class="mn" x="522" y="-7.7">99</text><text class="mn" x="767" y="-7.7">100</text>
<text class="a" x="276" y="75.7">210</text><text class="b" x="276" y="89">66923</text><text class="c" x="276" y="102.3">9.38%</text>
<text class="a" x="521" y="75.7">172</text><text class="b" x="521" y="89">68239</text><text class="c" x="521" y="102.3">0.00%</text>
<text class="a" x="766" y="75.7">148</text><text class="b" x="766" y="89">68831</text><text class="c" x="766" y="102.3">0.00%</text>
<text class="a" x="1011" y="75.7">285</text><text class="b" x="1011" y="89">69971</text><text class="c" x="1011" y="102.3">0.00%</text>
</g>

<g id="row-26" transform="translate(0,3730.7)">
<use href="#staff4"/>
<rect class="uY" x="32" y="26.5" width="183.8" height="7"/><rect class="uO" x="32" y="56.5" width="183.8" height="7"/>
<use href="#r1"/><use href="#r2"/><use href="#r3"/>
<text class="mn" x="32" y="-7.7">101</text><text class="mn" x="277" y="-7.7">102</text><text class="mn" x="522" y="-7.7">103</text><text class="mn" x="767" y="-7.7">104</text>
<text class="a" x="276" y="75.7">72</text><text class="b" x="276" y="89">70259</text><text class="c" x="276" y="102.3">0.00%</text>
<text class="a" x="521" y="75.7">200</text><text class="b" x="521" y="89">71059</text><text class="c" x="521" y="102.3">0.00%</text>
<text class="a" x="766" y="75.7">112</text><text class="b" x="766" y="89">71507</text><text class="c" x="766" y="102.3">0.00%</text>
<text class="a" x="1011" y="75.7">125</text><text class="b" x="1011" y="89">72007</text><text class="c" x="1011" y="102.3">0.00%</text>
</g>

<g id="row-27" transform="translate(0,3871.7)">
<rect class="so" x="277" y="-10.4" width="214.4" height="81.7"/>
<use href="#staff4"/>
<use href="#v1"/>
<use href="#sR" x="277"/><use href="#sR" x="307.6"/><use href="#sR" x="338.3"/><use href="#sY" x="368.9"/><use href="#sY" x="399.5"/><use href="#sY" x="430.1"/><use href="#sB" x="460.8"/><use href="#sO" x="491.4"/>
<use href="#r2"/><use href="#r3"/>
<rect class="sp" x="277" y="0" width="214.4" height="60.7"/>
<text class="mn" x="32" y="-7.7">105</text><text class="mn" x="277" y="-7.7">106</text><text class="mn" x="522" y="-7.7">107</text><text class="mn" x="767" y="-7.7">108</text>
<text class="a" x="276" y="75.7">200</text><text class="b" x="276" y="89">72807</text><text class="c" x="276" y="102.3">0.00%</text>
<text class="a" x="521" y="75.7">200</text><text class="b" x="521" y="89">73607</text><text class="c" x="521" y="102.3">25.00%</text>
<text class="a" x="766" y="75.7">112</text><text class="b" x="766" y="89">74055</text><text class="c" x="766" y="102.3">25.00%</text>
<text class="a" x="1011" y="75.7">125</text><text class="b" x="1011" y="89">74555</text><text class="c" x="1011" y="102.3">25.00%</text>
</g>

<g id="row-28" transform="translate(0,4012.7)">
<use href="#staff4"/>
<use href="#v1"/><use href="#r1"/><use href="#r2"/><use href="#r3"/>
<text class="mn" x="32" y="-7.7">109</text><text class="mn" x="277" y="-7.7">110</text><text class="mn" x="522" y="-7.7">111</text><text class="mn" x="767" y="-7.7">112</text>
<text class="a" x="276" y="75.7">200</text><text class="b" x="276" y="89">75355</text><text class="c" x="276" y="102.3">25.00%</text>
<text class="a" x="521" y="75.7">200</text><text class="b" x="521" y="89">76155</text><text class="c" x="521" y="102.3">25.00%</text>
<text class="a" x="766" y="75.7">112</text><text class="b" x="766" y="89">76603</text><text class="c" x="766" y="102.3">25.00%</text>
<text class="a" x="1011" y="75.7">125</text><text class="b" x="1011" y="89">77103</text><text class="c" x="1011" y="102.3">25.00%</text>
</g>

<g id="row-29" transform="translate(0,4153.7)">
<use href="#staff4"/>
<use href="#v2"/><use href="#rB"/>
<text class="mn" x="32" y="-7.7">113</text><text class="mn" x="277" y="-7.7">114</text><text class="mn" x="522" y="-7.7">115</text><text class="mn" x="767" y="-7.7">116</text>
<text class="a" x="276" y="75.7">200</text><text class="b" x="276" y="89">77903</text><text class="c" x="276" y="102.3">25.00%</text>
<text class="a" x="521" y="75.7">150</text><text class="b" x="521" y="89">78503</text><text class="c" x="521" y="102.3">25.00%</text>
<text class="a" x="766" y="75.7">125</text><text class="b" x="766" y="89">79003</text><text class="c" x="766" y="102.3">25.00%</text>
<text class="a" x="1011" y="75.7">150</text><text class="b" x="1011" y="89">79603</text><text class="c" x="1011" y="102.3">25.00%</text>
</g>

<g id="row-30" transform="translate(0,4294.7)">
<use href="#staff4"/>
<use href="#v3"/><use href="#r1"/><use href="#r2"/><use href="#r3b"/>
<rect class="pk" x="62" y="-0.7" width="12" height="62.1"/>
<rect class="od" x="74" y="-0.7" width="938" height="62.1"/>
<text class="mn" x="32" y="-7.7">117</text><text class="mn" x="277" y="-7.7">118</text><text class="mn" x="522" y="-7.7">119</text><text class="mn" x="767" y="-7.7">120</text>
<text class="a" x="276" y="75.7">200</text><text class="b" x="276" y="89">81103</text><text class="c" x="276" y="102.3">14.72%</text>
<text class="a" x="521" y="75.7">200</text><text class="b" x="521" y="89">82803</text><text class="c" x="521" y="102.3">2.22%</text>
<text class="a" x="766" y="75.7">112</text><text class="b" x="766" y="89">83599</text><text class="c" x="766" y="102.3">0.00%</text>
<text class="a" x="1011" y="75.7">200</text><text class="b" x="1011" y="89">85199</text><text class="c" x="1011" y="102.3">0.00%</text>
</g>

<g id="row-31" transform="translate(0,4435.7)">
<use href="#staff4"/>
<rect class="uG" x="154.5" y="-3.5" width="61.3" height="7"/><rect class="uR" x="277" y="11.5" width="153.1" height="7"/><rect class="uY" x="491.4" y="26.5" width="91.9" height="7"/>
<use href="#G" x="62.6"/><use href="#G" x="93.3"/><use href="#G" x="123.9"/><use href="#G" x="154.5"/><use href="#B" x="62.6"/><use href="#B" x="93.3"/>
<use href="#R" x="277"/><use href="#R" x="460.8"/><use href="#Y" x="491.4"/><use href="#B" x="613.9"/><use href="#G" x="644.5"/><use href="#R" x="705.8"/>
<use href="#Y" x="736.4"/><use href="#Y" x="767"/><use href="#Y" x="828.3"/><use href="#Y" x="889.5"/><use href="#Y" x="920.1"/><use href="#Y" x="950.8"/><use href="#Y" x="981.4"/>
<rect class="od" x="32" y="-0.7" width="43.3" height="62.1"/>
<rect class="pk" x="75.3" y="-0.7" width="18" height="62.1"/>
<text class="mn" x="32" y="-7.7">121</text><text class="mn" x="277" y="-7.7">122</text><text class="mn" x="522" y="-7.7">123</text><text class="mn" x="767" y="-7.7">124</text>
<text class="a" x="276" y="75.7">162</text><text class="b" x="276" y="89">86247</text><text class="c" x="276" y="102.3">0.00%</text>
<text class="a" x="521" y="75.7">111</text><text class="b" x="521" y="89">86691</text><text class="c" x="521" y="102.3">0.00%</text>
<text class="a" x="766" y="75.7">112</text><text class="b" x="766" y="89">87139</text><text class="c" x="766" y="102.3">0.00%</text>
<text class="a" x="1011" y="75.7">150</text><text class="b" x="1011" y="89">87739</text><text class="c" x="1011" y="102.3">0.00%</text>
</g>

<g id="row-32" transform="translate(0,4576.7)">
<use href="#staff4"/>
<rect class="uG" x="889.5" y="-3.5" width="91.9" height="7"/>
<use href="#B" x="32"/><use href="#B" x="62.6"/><use href="#B" x="123.9"/><use href="#B" x="154.5"/><use href="#G" x="185.1"/><use href="#G" x="215.8"/><use href="#G" x="246.4"/><use href="#O" x="277"/><use href="#B" x="338.3"/><use href="#B" x="368.9"/><use href="#Y" x="399.5"/><use href="#Y" x="460.8"/><use href="#Y" x="491.4"/><use href="#B" x="522"/><use href="#Y" x="583.3"/><use href="#R" x="644.5"/><use href="#G" x="705.8"/><use href="#Y" x="767"/><use href="#R" x="828.3"/><use href="#G" x="889.5"/>
<text class="mn" x="32" y="-7.7">125</text><text class="mn" x="277" y="-7.7">126</text><text class="mn" x="522" y="-7.7">127</text><text class="mn" x="767" y="-7.7">128</text>
<text class="a" x="276" y="75.7">175</text><text class="b" x="276" y="89">88439</text><text class="c" x="276" y="102.3">0.00%</text>
<text class="a" x="521" y="75.7">150</text><text class="b" x="521" y="89">89039</text><text class="c" x="521" y="102.3">0.00%</text>
<text class="a" x="766" y="75.7">100</text><text class="b" x="766" y="89">89439</text><text class="c" x="766" y="102.3">0.00%</text>
<text class="a" x="1011" y="75.7">93</text><text class="b" x="1011" y="89">89811</text><text class="c" x="1011" y="102.3">0.00%</text>
</g>

<g id="row-33" transform="translate(0,4717.7)">
<use href="#staff1"/>
<use href="#B" x="32"/><use href="#O" x="62.6"/>
<text class="mn" x="32" y="-7.7">129</text>
<text class="a" x="276" y="75.7">50</text><text class="b" x="276" y="89">90011</text><text class="c" x="276" y="102.3">0.00%</text>
</g>
</g>
</svg>
